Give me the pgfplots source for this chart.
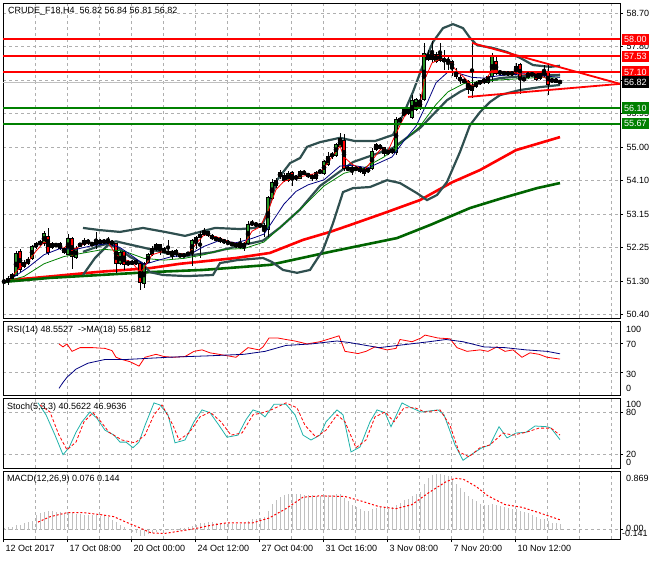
\documentclass[border=0pt]{standalone}
\usepackage{pgfplots}
\pgfplotsset{compat=1.18}
\usepackage{pgfplotstable}
\usepackage{fontspec}
\setmainfont{Liberation Sans}

\definecolor{mtGreen}{RGB}{0,128,0}
\definecolor{candleGreen}{RGB}{40,150,40}
\definecolor{bbGray}{RGB}{47,79,79}
\definecolor{gridGray}{RGB}{175,175,175}
\definecolor{histGray}{RGB}{192,192,192}
\definecolor{maGreen}{RGB}{0,100,0}
\definecolor{stochTeal}{RGB}{32,178,170}
\definecolor{rsiNavy}{RGB}{0,0,128}

\newcommand{\lbl}{\fontsize{9}{10}\selectfont}

% H4 candles: bar index, open, high, low, close
\pgfplotstableread{
i o h l c
0 51.30 51.35 51.27 51.32
1 51.30 51.45 51.22 51.40
2 51.40 51.55 51.36 51.50
3 51.48 52.15 51.45 52.08
4 52.15 52.20 51.58 51.63
5 51.72 51.90 51.68 51.85
6 51.82 51.98 51.78 51.92
7 51.95 52.33 51.90 52.28
8 52.27 52.40 52.22 52.35
9 52.35 52.45 52.30 52.40
10 52.35 52.70 52.30 52.63
11 52.55 52.80 52.05 52.10
12 52.25 52.40 52.20 52.35
13 52.33 52.38 52.26 52.30
14 52.35 52.40 52.18 52.22
15 52.22 52.26 52.08 52.12
16 52.07 52.63 52.03 52.50
17 52.50 52.55 51.65 52.00
18 51.98 52.28 51.92 52.22
19 52.30 52.38 52.26 52.35
20 52.33 52.50 52.30 52.45
21 52.45 52.48 52.33 52.37
22 52.35 52.40 52.30 52.33
23 52.33 52.68 52.20 52.42
24 52.45 52.48 52.33 52.37
25 52.38 52.48 52.34 52.45
26 52.38 52.55 52.35 52.45
27 52.42 52.46 52.30 52.35
28 52.35 52.38 51.55 51.82
29 51.80 52.15 51.76 52.10
30 52.15 52.18 51.62 51.78
31 51.78 51.90 51.74 51.85
32 51.85 51.90 51.76 51.80
33 51.88 51.92 51.76 51.80
34 51.80 51.85 51.08 51.27
35 51.25 51.85 51.12 51.80
36 51.85 52.10 51.82 52.07
37 52.05 52.28 52.02 52.22
38 52.33 52.38 52.16 52.20
39 52.32 52.36 52.05 52.20
40 52.22 52.26 52.10 52.12
41 52.13 52.45 52.05 52.08
42 52.05 52.18 51.90 52.15
43 52.18 52.22 51.98 52.05
44 52.05 52.08 51.99 52.02
45 52.02 52.08 51.99 52.05
46 52.05 52.13 52.02 52.10
47 52.10 52.48 51.75 52.45
48 52.42 52.58 52.22 52.52
49 52.52 52.70 51.96 52.62
50 52.62 52.78 52.58 52.70
51 52.68 52.72 52.54 52.58
52 52.58 52.62 52.46 52.50
53 52.50 52.54 52.44 52.47
54 52.50 52.54 52.38 52.42
55 52.45 52.48 52.36 52.40
56 52.42 52.45 52.31 52.35
57 52.37 52.41 52.28 52.32
58 52.35 52.39 52.24 52.28
59 52.32 52.50 52.22 52.26
60 52.28 52.40 52.15 52.36
61 52.36 52.98 52.32 52.88
62 52.88 53.00 52.84 52.95
63 52.92 52.96 52.81 52.85
64 52.87 52.91 52.81 52.85
65 52.87 52.92 52.55 52.75
66 52.75 53.68 52.55 53.62
67 53.60 54.15 53.55 54.05
68 53.95 54.16 53.90 54.10
69 54.32 54.38 54.15 54.20
70 54.25 54.30 54.05 54.10
71 54.10 54.36 54.06 54.30
72 54.32 54.36 53.95 54.12
73 54.15 54.26 54.10 54.22
74 54.17 54.40 54.13 54.35
75 54.35 54.39 54.24 54.28
76 54.28 54.32 54.18 54.22
77 54.25 54.29 54.10 54.15
78 54.15 54.36 54.11 54.32
79 54.32 54.41 54.28 54.37
80 54.30 54.66 54.26 54.62
81 54.55 54.90 54.51 54.75
82 54.80 54.90 54.70 54.80
83 54.80 55.14 54.76 55.10
84 55.05 55.40 55.01 55.25
85 55.20 55.40 54.37 54.43
86 54.45 54.49 54.36 54.40
87 54.45 54.49 54.25 54.40
88 54.40 54.49 54.36 54.45
89 54.45 54.49 54.31 54.35
90 54.42 54.46 54.22 54.30
91 54.35 54.46 54.31 54.42
92 54.42 55.00 54.38 54.90
93 54.95 55.14 54.91 55.10
94 55.08 55.12 54.94 54.98
95 55.00 55.04 54.78 54.85
96 54.85 54.96 54.81 54.92
97 54.88 54.99 54.84 54.95
98 54.88 55.85 54.80 55.80
99 55.75 55.85 55.70 55.80
100 55.90 56.12 55.86 56.05
101 56.05 56.09 55.91 55.95
102 55.85 56.45 55.81 56.30
103 56.05 56.39 56.01 56.35
104 56.30 56.50 56.06 56.10
105 56.35 57.90 56.31 57.60
106 57.45 57.70 57.41 57.55
107 57.60 57.95 57.35 57.45
108 57.40 57.65 57.36 57.58
109 57.58 57.90 57.38 57.42
110 57.45 57.70 57.15 57.40
111 57.42 57.55 57.15 57.40
112 57.40 57.44 57.00 57.20
113 57.10 57.20 56.90 56.98
114 56.95 57.02 56.78 56.85
115 56.90 56.94 56.76 56.80
116 56.85 56.89 56.50 56.62
117 56.60 57.90 56.38 56.72
118 56.70 56.86 56.66 56.82
119 56.78 56.89 56.74 56.85
120 56.82 56.94 56.78 56.90
121 56.82 57.02 56.78 56.98
122 56.98 57.62 56.82 57.52
123 57.40 57.50 57.01 57.05
124 57.12 57.16 57.01 57.05
125 57.05 57.12 57.01 57.08
126 57.10 57.14 56.98 57.02
127 57.02 57.14 56.98 57.10
128 57.05 57.35 57.01 57.25
129 57.30 57.34 56.50 56.95
130 56.92 56.96 56.84 56.88
131 56.95 57.14 56.91 57.10
132 57.05 57.09 56.98 57.02
133 57.08 57.12 56.86 56.90
134 56.92 57.09 56.88 57.05
135 57.00 57.30 56.96 57.15
136 57.12 57.35 56.45 56.75
137 56.88 56.92 56.81 56.85
138 56.90 56.94 56.79 56.82
139 56.82 56.84 56.81 56.82
}\candles

% MACD main line (histogram)
\pgfplotstableread{
i m
0 0.02
1 0.03
2 0.04
3 0.06
4 0.07
5 0.09
6 0.11
7 0.13
8 0.22
9 0.25
10 0.26
11 0.27
12 0.27
13 0.26
14 0.26
15 0.25
16 0.26
17 0.24
18 0.23
19 0.23
20 0.22
21 0.22
22 0.21
23 0.21
24 0.20
25 0.20
26 0.18
27 0.14
28 0.11
29 0.07
30 0.03
31 0.00
32 -0.03
33 -0.05
34 -0.09
35 -0.09
36 -0.07
37 -0.05
38 -0.03
39 -0.01
40 0.00
41 0.01
42 0.01
43 0.01
44 0.02
45 0.02
46 0.03
47 0.05
48 0.07
49 0.09
50 0.10
51 0.11
52 0.11
53 0.10
54 0.10
55 0.09
56 0.09
57 0.08
58 0.08
59 0.08
60 0.09
61 0.12
62 0.15
63 0.16
64 0.17
65 0.18
66 0.28
67 0.38
68 0.44
69 0.48
70 0.51
71 0.53
72 0.53
73 0.53
74 0.53
75 0.52
76 0.52
77 0.51
78 0.50
79 0.50
80 0.51
81 0.52
82 0.52
83 0.53
84 0.53
85 0.47
86 0.42
87 0.37
88 0.33
89 0.30
90 0.28
91 0.28
92 0.30
93 0.32
94 0.33
95 0.32
96 0.31
97 0.33
98 0.36
99 0.40
100 0.44
101 0.46
102 0.50
103 0.53
104 0.55
105 0.68
106 0.76
107 0.81
108 0.82
109 0.82
110 0.81
111 0.79
112 0.74
113 0.68
114 0.62
115 0.56
116 0.50
117 0.46
118 0.42
119 0.38
120 0.36
121 0.36
122 0.38
123 0.37
124 0.35
125 0.34
126 0.32
127 0.31
128 0.30
129 0.28
130 0.26
131 0.24
132 0.22
133 0.19
134 0.16
135 0.15
136 0.12
137 0.10
138 0.09
139 0.076
}\macdhist

\pgfplotsset{
  mtpanel/.style={
    scale only axis, width=617pt,
    xmin=-0.25, xmax=154,
    anchor=north west,
    axis line style={line width=0.8pt},
    xtick={7.75,15.75,...,151.75}, xticklabels=\empty, xmajorgrids,
    grid style={gridGray, line width=0.7pt, dash pattern=on 3pt off 3pt},
    ytick pos=right, yticklabel pos=right,
    tick align=outside, major tick length=3pt,
    tick style={black, line width=0.7pt},
    xtick style={draw=none},
    yticklabel style={font=\lbl, anchor=west},
    xticklabel style={font=\lbl},
  },
  wicks/.style={only marks, mark=none, forget plot,
    error bars/.cd, y dir=both, y explicit, error mark=none,
    error bar style={draw=black, solid, line width=1pt}},
  bodies/.style={only marks, mark=none, forget plot,
    error bars/.cd, y dir=both, y explicit, error mark=none,
    error bar style={draw=#1, solid, line width=1.3pt}},
  outline/.style={only marks, mark=none, forget plot,
    error bars/.cd, y dir=both, y explicit, error mark=none,
    error bar style={draw=black, solid, line width=3.2pt}},
}

\begin{document}
\begin{tikzpicture}
\useasboundingbox (0,0) rectangle (660pt,-560pt);

% ---------------- price window ----------------
\begin{axis}[mtpanel, at={(3pt,-3pt)}, height=315pt,
  ymin=50.302, ymax=59.004,
  ytick={50.4,51.325,52.25,53.175,54.1,55.025,55.95,56.875,57.8,58.725},
  yticklabels={50.40,51.30,52.25,53.15,54.10,55.00,55.95,56.85,57.80,58.70},
  ymajorgrids]

% slow moving averages
\addplot[red, line width=2.6pt] coordinates {
(0,51.30) (1.5,51.35) (11.5,51.45) (24,51.58) (36.5,51.68) (44,51.80) (58,51.96)
(66.5,52.10) (74.75,52.46) (81.5,52.68) (86.5,52.87) (95,53.20) (104,53.56)
(112,54.05) (119,54.39) (128,54.94) (139,55.30)};
\addplot[maGreen, line width=2.6pt] coordinates {
(0,51.30) (11.5,51.41) (24,51.49) (36.5,51.57) (49.75,51.63) (66.5,51.77)
(81.5,52.13) (98.25,52.51) (106.5,52.87) (116.5,53.34) (124.75,53.62)
(133.25,53.89) (139,54.03)};

% Bollinger bands
\addplot[bbGray, line width=2.2pt] coordinates {
(19.75,52.79) (24,52.73) (29,52.68) (34.75,52.79) (40.25,52.68) (45.25,52.57)
(49,52.68) (52.75,52.79) (59,52.76) (62.75,52.79) (64.75,52.92) (66,53.29)
(68.25,54.11) (71.5,54.58) (74,54.72) (75.75,55.03) (79,55.16) (84,55.28)
(87.75,55.19) (92.75,55.19) (97.25,55.36) (99.75,55.91) (102.25,56.55)
(104.75,57.29) (107.25,57.93) (109.75,58.31) (112.25,58.42) (114.75,58.31)
(116.5,58.04) (118.25,57.84) (122.25,57.76) (125.75,57.65) (129,57.49)
(132.25,57.29) (136.5,57.24) (139,57.27)};
\addplot[bbGray, line width=2.2pt] coordinates {
(19.75,52.13) (24,52.30) (28,52.42) (31.5,52.33) (34.75,52.25) (40.25,52.10)
(45.75,52.02) (52.25,52.12) (59,52.30) (64.75,52.44) (69,52.80) (74,53.30)
(79,53.95) (87.25,54.61) (97.25,55.00) (104,55.55) (110.75,56.32) (114,56.55)
(118.25,56.78) (124,56.93) (131.5,57.00) (139,57.02)};
\addplot[bbGray, line width=2.2pt] coordinates {
(19.75,51.49) (22.75,51.96) (26,52.32) (28.25,52.26) (31.5,51.99) (34.5,51.82)
(36.5,51.57) (39.75,51.49) (45.75,51.46) (52.25,51.49) (54,51.82) (58.25,51.90)
(64.75,51.96) (67,51.85) (69.75,51.63) (73.25,51.55) (76.5,51.63) (79.75,52.18)
(82.25,52.92) (84.75,53.78) (87.25,53.89) (91.5,53.92) (95.75,54.11) (99,54.03)
(103.25,53.75) (105.75,53.56) (108.25,53.70) (110.75,54.06) (114,54.89)
(116.5,55.63) (119,55.99) (121.5,56.27) (124,56.46) (129,56.60) (134,56.68)
(139,56.74)};

% current price line
\addplot[histGray, line width=0.8pt] coordinates {(-0.25,56.82) (154,56.82)};

% candles
\addplot[wicks] table[x=i, y expr={(\thisrow{h}+\thisrow{l})/2},
  y error expr={(\thisrow{h}-\thisrow{l})/2}] {\candles};
\addplot[outline] table[x=i, y expr={(\thisrow{o}+\thisrow{c})/2},
  y error expr={abs(\thisrow{c}-\thisrow{o})/2+0.014}] {\candles};
\addplot[bodies=candleGreen] table[x=i,
  y expr={\thisrow{c}>\thisrow{o} ? (\thisrow{o}+\thisrow{c})/2 : nan},
  y error expr={max(abs(\thisrow{c}-\thisrow{o})/2-0.014,0)}] {\candles};
\addplot[bodies=red] table[x=i,
  y expr={\thisrow{c}<\thisrow{o} ? (\thisrow{o}+\thisrow{c})/2 : nan},
  y error expr={max(abs(\thisrow{c}-\thisrow{o})/2-0.014,0)}] {\candles};

% fast moving averages
\addplot[mtGreen, line width=0.8pt] coordinates {
(0,51.30) (5,51.45) (10,51.80) (15,52.00) (20,52.10) (25,52.20) (30,52.15)
(35,51.95) (40,51.90) (45,51.95) (50,52.05) (55,52.20) (60,52.22) (65,52.40)
(70,52.90) (75,53.40) (80,53.95) (85,54.30) (90,54.45) (95,54.75) (100,55.20)
(104,55.60) (108,56.20) (111,56.55) (115,56.78) (120,56.85) (127,56.90)
(134,56.95) (139,56.96)};
\addplot[rsiNavy, line width=0.8pt] coordinates {
(2,51.40) (6,51.70) (10,52.05) (14,52.22) (18,52.20) (22,52.30) (26,52.36)
(29,52.25) (32,52.02) (35,51.78) (38,51.88) (42,52.00) (46,52.03) (50,52.28)
(54,52.45) (58,52.38) (62,52.50) (65,52.62) (67,52.95) (70,53.45) (73,53.80)
(76,53.98) (80,54.12) (84,54.50) (87,54.52) (91,54.45) (94,54.60) (97,54.75)
(100,55.20) (103,55.60) (106,56.30) (108,56.80) (111,57.10) (114,57.05)
(117,56.95) (120,56.93) (124,57.00) (130,57.05) (134,57.00) (139,56.95)};
\addplot[red, line width=0.8pt] coordinates {
(2,51.45) (4,51.70) (6,51.85) (8,52.15) (10,52.40) (11,52.35) (13,52.32)
(15,52.22) (16,52.35) (17,52.20) (18,52.22) (20,52.35) (23,52.38) (26,52.40)
(28,52.05) (30,51.92) (32,51.85) (34,51.55) (35,51.68) (37,52.05) (40,52.15)
(43,52.10) (46,52.06) (48,52.35) (50,52.60) (53,52.55) (57,52.38) (60,52.33)
(62,52.70) (64,52.82) (66,53.25) (68,53.85) (70,54.08) (73,54.18) (76,54.25)
(79,54.32) (81,54.60) (84,55.05) (85,54.75) (87,54.55) (90,54.38) (92,54.65)
(94,54.95) (96,54.92) (98,55.40) (100,55.85) (102,56.10) (104,56.18)
(105,56.85) (107,57.35) (109,57.45) (111,57.42) (113,57.15) (115,56.95)
(117,56.72) (120,56.82) (122,57.15) (124,57.12) (127,57.08) (129,57.05)
(131,57.02) (134,57.00) (136,56.90) (139,56.84)};

% support and resistance levels
\addplot[red, line width=1.8pt] coordinates {(-0.25,58.00) (154,58.00)};
\addplot[red, line width=1.8pt] coordinates {(-0.25,57.53) (154,57.53)};
\addplot[red, line width=1.8pt] coordinates {(-0.25,57.10) (154,57.10)};
\addplot[mtGreen, line width=1.8pt] coordinates {(-0.25,56.10) (154,56.10)};
\addplot[mtGreen, line width=1.8pt] coordinates {(-0.25,55.67) (154,55.67)};

% triangle
\addplot[red, line width=1.8pt] coordinates {(117,57.90) (154,56.77)};
\addplot[red, line width=1.8pt] coordinates {(116,56.41) (154,56.77)};

\coordinate (L5800) at (axis cs:154,58.00);
\coordinate (L5753) at (axis cs:154,57.53);
\coordinate (L5710) at (axis cs:154,57.10);
\coordinate (L5682) at (axis cs:154,56.82);
\coordinate (L5610) at (axis cs:154,56.10);
\coordinate (L5567) at (axis cs:154,55.67);
\end{axis}

% ---------------- RSI window ----------------
\begin{axis}[mtpanel, at={(3pt,-321pt)}, height=74pt,
  ymin=0, ymax=100, ytick={30,70}, yticklabels=\empty, ymajorgrids]
\addplot[red, line width=0.8pt] coordinates {
(13.75,69) (14.75,65) (15.75,69) (17,59) (19,64) (22.25,64) (25.25,63) (27,60)
(28,51) (29.5,48) (31.5,45) (33.75,39) (35.25,51) (38,55) (40,52) (42.25,51)
(45.25,52) (47.5,59) (49.5,61) (51.5,57) (53.75,55) (58,51) (61,64) (63.75,61)
(64.75,65) (66.25,77) (68.5,77) (70.5,75) (72.75,73) (75.75,69) (79,72) (82,77)
(83.75,80) (85.25,59) (88.5,56) (90.5,59) (92.75,65) (95.75,61) (98,63) (99,75)
(102,72) (104.25,77) (105.25,81) (108.5,77) (111.5,76) (113.25,64) (115.75,59)
(119,61) (121,59) (123.25,65) (125.25,59) (127.25,61) (129.5,51) (131.5,57)
(133.75,55) (135.75,51) (139,48.55)};
\addplot[rsiNavy, line width=0.8pt] coordinates {
(13.75,9) (14.75,17) (15.75,24) (17,30) (18,35) (21,43) (25.25,48) (30.5,48)
(41,51) (46.25,52) (51.5,53) (60,55) (65.25,59) (70.5,67) (76.75,69) (83.25,73)
(86.25,71) (93.75,64) (100,68) (106.25,72) (110.5,75) (114.75,72) (120,65)
(125.25,64) (130.5,61) (135.75,59) (139,55.68)};
\end{axis}

% ---------------- Stochastic window ----------------
\begin{axis}[mtpanel, at={(3pt,-398pt)}, height=70pt,
  ymin=0, ymax=100, ytick={20,80}, yticklabels=\empty, ymajorgrids]
\addplot[stochTeal, line width=0.8pt] coordinates {
(8.5,93) (10.5,76) (12.75,47) (14.75,19) (16.25,29) (18,51) (19.5,66) (21.5,80)
(23.25,71) (25.25,54) (27.5,47) (29,37) (30.5,37) (32.25,29) (33.75,37)
(35.25,61) (37.5,93) (39,90) (41,76) (42.75,36) (45.25,40) (47.5,66) (49.5,83)
(51.5,79) (53.75,61) (55.75,44) (58.5,47) (60.5,69) (62.25,83) (63.75,80)
(65.25,73) (67.5,91) (70.5,91) (72.75,76) (74.75,47) (76.75,40) (79,47)
(80.5,66) (83.25,83) (84.75,76) (86.75,23) (89,30) (91.5,66) (93.25,83)
(95.25,79) (96.75,59) (99.5,93) (101.5,87) (104.25,80) (108.5,83) (110,76)
(112.75,33) (114.75,11) (116.75,19) (119.5,29) (121.5,33) (123.75,59)
(125.75,43) (128,50) (130.5,51) (132.75,60) (135.75,59) (136.75,57)
(139,40.56)};
\addplot[red, line width=0.8pt, dash pattern=on 3pt off 2pt] coordinates {
(9,90) (11.5,80) (13.75,47) (15.75,26) (18,37) (20,66) (22.25,79) (24.25,66)
(26.25,51) (29.5,40) (32.75,36) (35.25,47) (37.5,76) (39.5,90) (42.25,61)
(43.75,40) (46.25,50) (49,73) (51.5,80) (54.25,66) (56.75,47) (59.5,50)
(62.25,76) (64.75,79) (66.75,83) (70.5,93) (73.25,86) (75.25,61) (78,44)
(80.5,54) (83.25,76) (85.25,66) (88,29) (90.5,40) (92.75,73) (95.25,80)
(97.5,66) (100,86) (102.75,86) (105.25,80) (109,83) (111.5,61) (113.75,23)
(116.25,16) (119,29) (121.5,33) (124.75,50) (127.25,47) (130.5,51)
(133.75,57) (136.75,57) (139,46.96)};
\end{axis}

% ---------------- MACD window ----------------
\begin{axis}[mtpanel, at={(3pt,-471pt)}, height=68pt,
  ymin=-0.141, ymax=0.869, ytick={0}, yticklabels=\empty, ymajorgrids,
  xtick={-0.25,15.75,...,127.75},
  xticklabels={12 Oct 2017,17 Oct 08:00,20 Oct 00:00,24 Oct 12:00,27 Oct 04:00,
    31 Oct 16:00,3 Nov 08:00,7 Nov 20:00,10 Nov 12:00},
  xtick style={draw=black}, xtick pos=left,
  xticklabel style={anchor=north west, xshift=-1pt, font=\lbl},
  minor xtick={7.75,23.75,39.75,55.75,71.75,87.75,103.75,119.75,135.75,143.75,151.75},
  xminorgrids, minor tick length=0pt]
\addplot[ycomb, histGray, line width=1pt, forget plot] table[x=i, y=m] {\macdhist};
\addplot[red, line width=1pt, dash pattern=on 2pt off 2pt] coordinates {
(8.5,0.11) (11.5,0.19) (15.75,0.25) (20,0.25) (24.25,0.22) (27.5,0.19)
(30.5,0.11) (33.75,0.03) (36.75,-0.05) (40,-0.06) (43.25,-0.03) (47.5,0.01)
(51.5,0.06) (55.75,0.10) (62.25,0.10) (66.25,0.17) (70.5,0.31) (74.75,0.48)
(79,0.50) (85.25,0.49) (89.5,0.42) (93.75,0.34) (98,0.31) (102,0.37)
(106.25,0.55) (110.5,0.71) (112.75,0.76) (114.75,0.75) (118,0.64) (121,0.50)
(125.25,0.37) (129.5,0.33) (133.75,0.25) (139,0.144)};
\end{axis}

% window captions
\node[anchor=west, font=\lbl, inner sep=0pt] at (8pt,-11pt) {CRUDE\_F18,H4\ \ 56.82 56.84 56.81 56.82};
\node[anchor=west, font=\lbl, inner sep=0pt] at (7pt,-330pt) {RSI(14) 48.5527\ \ ->MA(18) 55.6812};
\node[anchor=west, font=\lbl, inner sep=0pt] at (7pt,-407pt) {Stoch(5,3,3) 40.5622 46.9636};
\node[anchor=west, font=\lbl, inner sep=0pt] at (7pt,-479pt) {MACD(12,26,9) 0.076 0.144};

% right scale labels of the indicator windows
\begin{scope}[every node/.style={anchor=west, font=\lbl, inner sep=0pt}]
\node at (626pt,-329pt) {100};
\node at (626pt,-344pt) {70};
\node at (626pt,-374pt) {30};
\node at (626pt,-388pt) {0};
\node at (626pt,-404pt) {100};
\node at (626pt,-412pt) {80};
\node at (626pt,-454pt) {20};
\node at (626pt,-462pt) {0};
\node at (626pt,-478pt) {0.869};
\node at (626pt,-528pt) {0.00};
\node at (622pt,-533pt) {-0.141};
\end{scope}

% price boxes of the levels
\begin{scope}[every node/.style={anchor=west, font=\lbl, text=white,
  inner xsep=2pt, inner ysep=0pt, minimum height=11.5pt}]
\node[fill=red] at ([xshift=2pt]L5800) {58.00};
\node[fill=red] at ([xshift=2pt]L5753) {57.53};
\node[fill=red] at ([xshift=2pt]L5710) {57.10};
\node[fill=black] at ([xshift=2pt]L5682) {56.82};
\node[fill=mtGreen] at ([xshift=2pt]L5610) {56.10};
\node[fill=mtGreen] at ([xshift=2pt]L5567) {55.67};
\end{scope}
\end{tikzpicture}
\end{document}
